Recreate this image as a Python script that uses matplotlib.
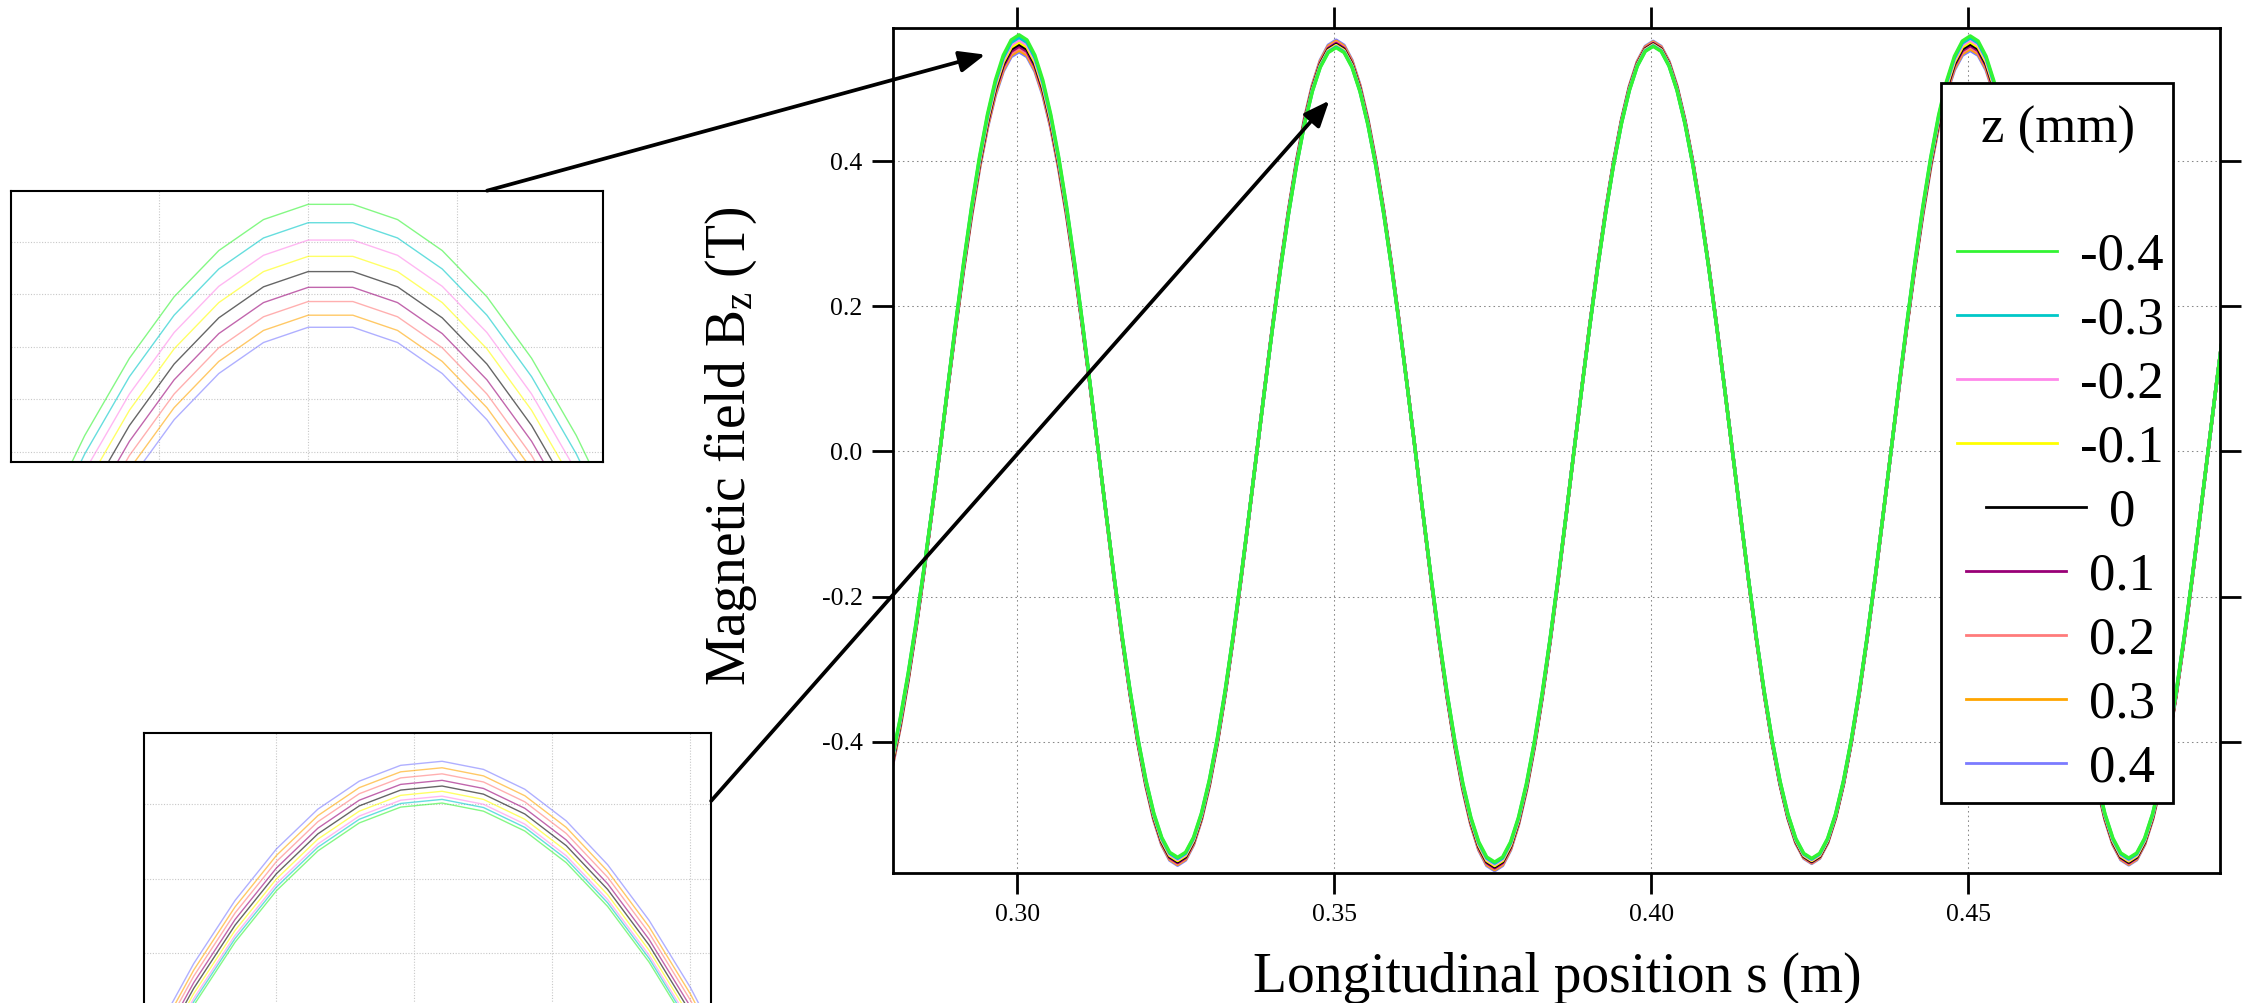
import numpy as np
import matplotlib
matplotlib.use("Agg")
import matplotlib.pyplot as plt
from matplotlib.patches import Rectangle, FancyArrowPatch, ArrowStyle
from matplotlib.lines import Line2D
from matplotlib.ticker import FormatStrFormatter

# ---------------- data ----------------
z_mm = [-0.4, -0.3, -0.2, -0.1, 0.0, 0.1, 0.2, 0.3, 0.4]
z_labels = ["-0.4", "-0.3", "-0.2", "-0.1", "0", "0.1", "0.2", "0.3", "0.4"]
z_colors = ["#33f433", "#00c8c8", "#ff88ea", "#ffff00", "#000000",
            "#990077", "#ff7b7b", "#ffa500", "#7b7bff"]

# sampled field of the z = 0 trace, 1.25 mm sampling starting at s = 0.2803 m
s_start_m = 0.2803
s_step_m = 0.00125
bz_z0 = [
    -0.4288, -0.3748, -0.3115, -0.2406, -0.1638, -0.0829, 0.0,
    0.0879, 0.1736, 0.2550, 0.3302, 0.3972, 0.4544, 0.5005, 0.5342, 0.5548, 0.5617,
    0.5548, 0.5342, 0.5005, 0.4544, 0.3972, 0.3302, 0.2550, 0.1736, 0.0879, 0.0,
    -0.0884, -0.1747, -0.2567, -0.3324, -0.3999, -0.4575, -0.5039, -0.5378, -0.5585, -0.5655,
    -0.5585, -0.5378, -0.5039, -0.4575, -0.3999, -0.3324, -0.2567, -0.1747, -0.0884, 0.0,
    0.0877, 0.1733, 0.2547, 0.3298, 0.3967, 0.4538, 0.4999, 0.5336, 0.5541, 0.5610,
    0.5541, 0.5336, 0.4999, 0.4538, 0.3967, 0.3298, 0.2547, 0.1733, 0.0877, 0.0,
    -0.0895, -0.1769, -0.2599, -0.3365, -0.4048, -0.4632, -0.5101, -0.5445, -0.5655, -0.5725,
    -0.5655, -0.5445, -0.5101, -0.4632, -0.4048, -0.3365, -0.2599, -0.1769, -0.0895, 0.0,
    0.0878, 0.1735, 0.2549, 0.3300, 0.3970, 0.4543, 0.5003, 0.5340, 0.5546, 0.5615,
    0.5546, 0.5340, 0.5003, 0.4543, 0.3970, 0.3300, 0.2549, 0.1735, 0.0878, 0.0,
    -0.0884, -0.1746, -0.2565, -0.3321, -0.3995, -0.4571, -0.5034, -0.5374, -0.5580, -0.5650,
    -0.5580, -0.5374, -0.5034, -0.4571, -0.3995, -0.3321, -0.2565, -0.1746, -0.0884, 0.0,
    0.0879, 0.1737, 0.2551, 0.3303, 0.3974, 0.4547, 0.5007, 0.5345, 0.5551, 0.5620,
    0.5551, 0.5345, 0.5007, 0.4547, 0.3974, 0.3303, 0.2551, 0.1737, 0.0879, 0.0,
    -0.0885, -0.1749, -0.2570, -0.3327, -0.4002, -0.4579, -0.5043, -0.5383, -0.5590, -0.5660,
    -0.5590, -0.5383, -0.5043, -0.4579, -0.4002, -0.3327, -0.2570, -0.1749, -0.0885, 0.0,
    0.0876, 0.1730,
]

# zero crossings separating the poles (lobes)
lobe_edges_m = [0.2878, 0.3128, 0.3378, 0.3628, 0.3878, 0.4128, 0.4378, 0.4628, 0.4878]

# |Bz| at the extremum of each lobe for every z (rows follow z_mm)
extremum_T = [
    [0.5200, 0.5745, 0.5595, 0.5568, 0.5660, 0.5585, 0.5610, 0.5730, 0.5605, 0.5620],
    [0.5225, 0.5710, 0.5610, 0.5577, 0.5676, 0.5592, 0.5620, 0.5702, 0.5619, 0.5615],
    [0.5250, 0.5677, 0.5625, 0.5585, 0.5692, 0.5600, 0.5630, 0.5675, 0.5633, 0.5610],
    [0.5275, 0.5646, 0.5640, 0.5597, 0.5709, 0.5607, 0.5640, 0.5647, 0.5646, 0.5605],
    [0.5300, 0.5617, 0.5655, 0.5610, 0.5725, 0.5615, 0.5650, 0.5620, 0.5660, 0.5600],
    [0.5325, 0.5587, 0.5668, 0.5624, 0.5739, 0.5624, 0.5658, 0.5597, 0.5670, 0.5595],
    [0.5345, 0.5560, 0.5680, 0.5640, 0.5752, 0.5634, 0.5665, 0.5575, 0.5680, 0.5590],
    [0.5365, 0.5534, 0.5692, 0.5655, 0.5766, 0.5644, 0.5672, 0.5552, 0.5690, 0.5585],
    [0.5380, 0.5511, 0.5705, 0.5671, 0.5780, 0.5655, 0.5680, 0.5530, 0.5700, 0.5580],
]

# zoomed peak at s = 0.30 m (inset 1), z = 0 trace, 0.6 mm sampling
inset1_s = [0.2952, 0.2958, 0.2964, 0.2970, 0.2976, 0.2982, 0.2988, 0.2994, 0.3000,
            0.3006, 0.3012, 0.3018, 0.3024, 0.3030, 0.3036, 0.3042, 0.3048]
inset1_bz0 = [0.4557, 0.4792, 0.4997, 0.5173, 0.5320, 0.5437, 0.5525, 0.5584, 0.5613,
              0.5613, 0.5584, 0.5525, 0.5437, 0.5320, 0.5173, 0.4997, 0.4792]

# zoomed peak at s = 0.35 m (inset 2), z = 0 trace
inset2_s = [0.3456, 0.3462, 0.3468, 0.3474, 0.3480, 0.3486, 0.3492, 0.3498, 0.3504,
            0.3510, 0.3516, 0.3522, 0.3528, 0.3534, 0.3540, 0.3546, 0.3552]
inset2_bz0 = [0.4710, 0.4925, 0.5111, 0.5267, 0.5394, 0.5492, 0.5561, 0.5600, 0.5610,
              0.5590, 0.5541, 0.5463, 0.5355, 0.5218, 0.5052, 0.4856, 0.4631]

x_ticks = [0.30, 0.35, 0.40, 0.45]
y_ticks = [-0.4, -0.2, 0.0, 0.2, 0.4]

# ---------------- style ----------------
plt.rcParams["font.family"] = ["Liberation Serif", "DejaVu Serif"]
plt.rcParams["mathtext.fontset"] = "custom"
plt.rcParams["mathtext.rm"] = "Liberation Serif"
plt.rcParams["mathtext.it"] = "Liberation Serif:italic"
plt.rcParams["mathtext.default"] = "regular"
plt.rcParams["axes.unicode_minus"] = False

W, H = 2252, 1003
fig = plt.figure(figsize=((W + 0.4) / 100, (H + 0.4) / 100), dpi=100)
fig.patch.set_facecolor("white")


def fbox(x0, y0, x1, y1):
    return [x0 / W, 1 - y1 / H, (x1 - x0) / W, (y1 - y0) / H]


def fpt(x, y):
    return (x / W, 1 - y / H)


ext = np.array(extremum_T)
i0 = z_mm.index(0.0)

# ---------------- main axes ----------------
ax = fig.add_axes(fbox(893, 28, 2220, 873))
bz = np.array(bz_z0)
s_m = s_start_m + s_step_m * np.arange(len(bz))
lobe = np.searchsorted(lobe_edges_m, s_m)
for i in reversed(range(len(z_mm))):
    ratio = ext[i][lobe] / ext[i0][lobe]
    ax.plot(s_m, bz * ratio, color=z_colors[i], lw=2.4, solid_joinstyle="round")

ax.set_xlim(0.28044, 0.48975)
ax.set_ylim(-0.5811, 0.5844)
ax.set_xticks(x_ticks)
ax.set_yticks(y_ticks)
ax.xaxis.set_major_formatter(FormatStrFormatter("%.2f"))
ax.yaxis.set_major_formatter(FormatStrFormatter("%.1f"))
ax.tick_params(direction="out", length=15, width=2, top=True, right=True,
               labelsize=18.5, pad=7)
ax.grid(True, color="#888888", lw=0.75, linestyle=(0, (1.5, 3)))
for sp in ax.spines.values():
    sp.set_linewidth(2)

fig.text(*fpt(731, 446), "Magnetic field B$_z$ (T)", rotation=90,
         ha="center", va="center", fontsize=40)
fig.text(*fpt(1557, 991), "Longitudinal position s (m)", ha="center",
         va="baseline", fontsize=40)


# ---------------- insets ----------------
def make_inset(rect, s_vals, base, col, xlim, ylim, xt, yt):
    a = fig.add_axes(rect)
    for i in reversed(range(len(z_mm))):
        a.plot(s_vals, np.array(base) + (ext[i][col] - ext[i0][col]),
               color=z_colors[i], lw=1.0, alpha=0.6)
    a.set_xlim(*xlim)
    a.set_ylim(*ylim)
    a.set_xticks(xt)
    a.set_yticks(yt)
    a.tick_params(length=0, labelbottom=False, labelleft=False)
    a.grid(True, color="#c8c8c8", lw=0.8, linestyle=(0, (1, 1.5)))
    for sp in a.spines.values():
        sp.set_linewidth(1.5)
    return a


make_inset(fbox(11, 191, 603, 462), inset1_s, inset1_bz0, 1,
           (0.29601, 0.30396), (0.5251, 0.5767),
           [0.298, 0.300, 0.302], [0.527, 0.537, 0.547, 0.557, 0.567])
make_inset(fbox(144, 733, 711, 1050), inset2_s, inset2_bz0, 3,
           (0.34608, 0.35430), (0.4959, 0.5741),
           [0.348, 0.350, 0.352, 0.354], [0.5016, 0.5198, 0.5381, 0.5566])

# ---------------- arrows ----------------
astyle = ArrowStyle("-|>", head_length=0.6, head_width=0.25)
for p0, p1 in [((487, 191), (985, 55)), ((711, 801), (1329, 101))]:
    fig.add_artist(FancyArrowPatch(fpt(*p0), fpt(*p1), transform=fig.transFigure,
                                   arrowstyle=astyle, mutation_scale=26, lw=2.7,
                                   color="black", shrinkA=0, shrinkB=0, zorder=8))

# ---------------- legend ----------------
fig.add_artist(Rectangle(fpt(1941, 803), 232 / W, 720 / H, transform=fig.transFigure,
                         facecolor="white", edgecolor="black", lw=2, zorder=5))
fig.text(*fpt(2058, 143), "z (mm)", ha="center", va="baseline", fontsize=38, zorder=7)
renderer = fig.canvas.get_renderer()
cx = 2060
for i, (lab, col) in enumerate(zip(z_labels, z_colors)):
    yc = 251.5 + 64 * i
    t = fig.text(0, 0, lab, ha="left", va="baseline", fontsize=38, zorder=7)
    tw = t.get_window_extent(renderer=renderer).width
    row_w = 100 + 23 + tw
    x0 = cx - row_w / 2
    t.set_position(fpt(x0 + 123, yc + 17.8))
    fig.add_artist(Line2D([x0 / W, (x0 + 100) / W], [1 - yc / H, 1 - yc / H],
                          transform=fig.transFigure, color=col, lw=2, zorder=6))

fig.savefig("out.png", dpi=100)
